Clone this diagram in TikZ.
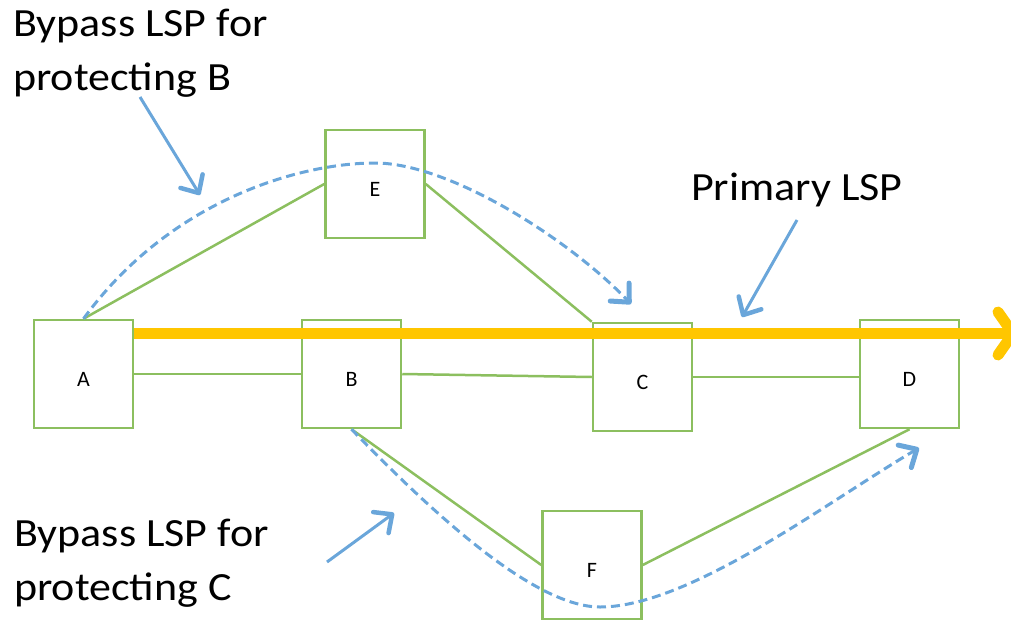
\documentclass[tikz,border=0pt]{standalone}
\usepackage{fontspec}
\setmainfont{Carlito}
\newfontfamily\capfont[FakeStretch=1.1]{Carlito}
\usetikzlibrary{arrows.meta}
\definecolor{boxgreen}{HTML}{8CBF5F}
\definecolor{lspblue}{HTML}{6AA6DA}
\definecolor{lspgold}{HTML}{FFC600}
\begin{document}
\begin{tikzpicture}[x=1pt,y=-1pt,
  nodebox/.style={draw=boxgreen, line width=2.5pt, minimum width=99pt, minimum height=108pt,
    inner sep=0pt, text height=24pt, text depth=0pt, font=\fontsize{22}{26}\selectfont},
  link/.style={draw=boxgreen, line width=2.5pt},
  bypass/.style={draw=lspblue, line width=3pt, dash pattern=on 9pt off 5pt,
    -{Straight Barb[length=14pt,width=26pt,line width=5pt,round]}},
  pointer/.style={draw=lspblue, line width=3pt,
    -{Straight Barb[length=14pt,width=26pt,line width=4.5pt,round]}},
  primary/.style={draw=lspgold, line width=11pt},
  caption/.style={font=\capfont\fontsize{40}{54}\selectfont, align=left, inner sep=0pt, anchor=base west}
]
\useasboundingbox (0,0) rectangle (1011,621);

% routers
\node[nodebox] (A) at (83.5,374) {A};
\node[nodebox] (B) at (351.5,374) {B};
\node[nodebox] (C) at (642.5,377) {C};
\node[nodebox] (D) at (909.5,374) {D};
\node[nodebox] (E) at (375,184) {E};
\node[nodebox] (F) at (592,565) {F};

% links
\draw[link] (A.east) -- (B.west);
\draw[link] (B.east) -- (C.west);
\draw[link] (C.east) -- (C.east -| D.west);
\draw[link] (A.north) -- (E.west);
\draw[link] (E.east) -- (C.north west);
\draw[link] (B.south) -- (F.west);
\draw[link] (F.east) -- (D.south);

% primary LSP
\coordinate (pend) at (1011,333.5);
\coordinate (pt1) at (998,312);
\coordinate (pt2) at (1013,333.5);
\coordinate (pt3) at (998,355);
\draw[primary] (A.east |- pend) -- (pend);
\draw[primary, line cap=round, line join=round] (pt1) -- (pt2) -- (pt3);

% bypass LSPs
\coordinate (btop) at (375,163);
\coordinate (bend1) at (631,304);
\draw[bypass] (A.north) .. controls (170,200) and (300,163) .. (btop)
  .. controls (450,163) and (570,240) .. (bend1);
\coordinate (bbot) at (600,607);
\coordinate (bend2) at (919,448);
\draw[bypass] (B.south) .. controls (420,500) and (530,607) .. (bbot)
  .. controls (690,607) and (830,500) .. (bend2);

% captions
\node[caption] (capB) at (13,90) {Bypass LSP for\\protecting B};
\node[caption] (capP) at (691,200) {Primary LSP};
\node[caption] (capC) at (14,600) {Bypass LSP for\\protecting C};

% pointers
\coordinate (p1s) at (140,97);
\coordinate (p1e) at (200,195);
\coordinate (p2s) at (797,220);
\coordinate (p2e) at (742,317);
\coordinate (p3s) at (327,562);
\coordinate (p3e) at (394,513);
\draw[pointer] (p1s) -- (p1e);
\draw[pointer] (p2s) -- (p2e);
\draw[pointer] (p3s) -- (p3e);
\end{tikzpicture}
\end{document}
